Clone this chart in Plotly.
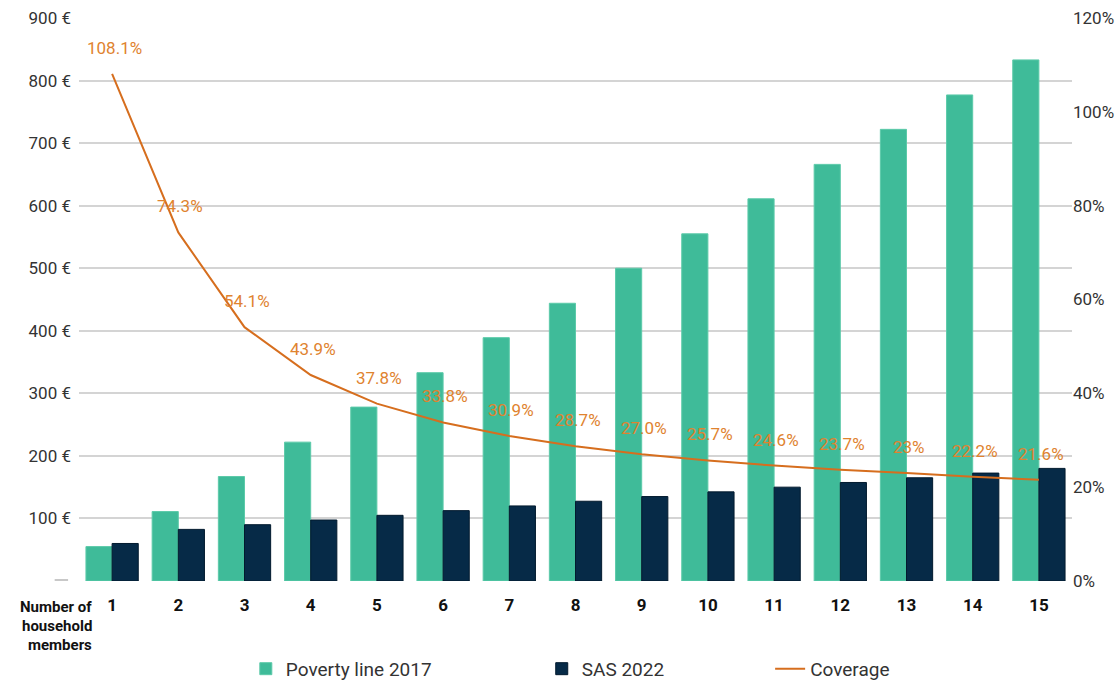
import plotly.graph_objects as go

members = [str(i) for i in range(1, 16)]
poverty_line_2017 = [55, 111, 167, 222, 278, 333, 389, 444, 500, 555, 611, 666, 722, 777, 833]
sas_2022 = [60, 82.5, 90, 97.5, 105, 112.5, 120, 127.5, 135, 142.5, 150, 157.5, 165, 172.5, 180]
coverage = [108.1, 74.3, 54.1, 43.9, 37.8, 33.8, 30.9, 28.7, 27.0, 25.7, 24.6, 23.7, 23, 22.2, 21.6]
coverage_labels = ["108.1%", "74.3%", "54.1%", "43.9%", "37.8%", "33.8%", "30.9%", "28.7%",
                   "27.0%", "25.7%", "24.6%", "23.7%", "23%", "22.2%", "21.6%"]
left_ticks = [0, 100, 200, 300, 400, 500, 600, 700, 800, 900]
right_ticks = [0, 20, 40, 60, 80, 100, 120]
axis_title_lines = ["Number of", "household", "members"]

FONT = "Roboto, DejaVu Sans"
GREEN = "#3FBB99"
NAVY = "#062A47"
ORANGE = "#D66E1E"
LABEL_ORANGE = "#E0832F"
TXT = "#333333"

fig = go.Figure()
fig.add_trace(go.Bar(
    x=members, y=poverty_line_2017, name="Poverty line 2017",
    marker=dict(color=GREEN, line=dict(color="#5CCAA9", width=1)),
    legend="legend",
))
fig.add_trace(go.Bar(
    x=members, y=sas_2022, name="SAS 2022",
    marker=dict(color=NAVY, line=dict(color="#021A2E", width=1)),
    legend="legend2",
))
fig.add_trace(go.Scatter(
    x=members, y=coverage, name="Coverage", yaxis="y2",
    mode="lines", line=dict(color=ORANGE, width=2),
    legend="legend3",
))

# data labels for the coverage line, anchored on the data points (category index)
for i, (v, t) in enumerate(zip(coverage, coverage_labels)):
    fig.add_annotation(
        x=i, y=v, xref="x", yref="y2", text=t, showarrow=False,
        xanchor="center", yanchor="middle", yshift=26, xshift=2,
        font=dict(family=FONT, size=17, color=LABEL_ORANGE),
    )

leg_common = dict(xanchor="left", yanchor="middle", font=dict(size=19), itemwidth=30,
                  bgcolor="rgba(0,0,0,0)")
fig.update_layout(
    width=1119, height=684,
    margin=dict(l=79, r=47, t=18, b=103, autoexpand=False),
    plot_bgcolor="white", paper_bgcolor="white",
    font=dict(family=FONT, size=17, color=TXT),
    barmode="group", bargap=0.21, bargroupgap=0,
    xaxis=dict(
        type="category", range=[-0.5, 14.5], showgrid=False, showline=False, ticks="",
        tickfont=dict(family=FONT, size=17, color="#111111", weight="bold"),
        tickangle=0, automargin=False, ticklabelstandoff=12,
    ),
    yaxis=dict(
        range=[0, 900], tickvals=left_ticks,
        ticktext=["" if v == 0 else f"{v} €" for v in left_ticks],
        showgrid=True, gridcolor="#D4D4D4", gridwidth=1.5,
        zeroline=False, showline=False, ticks="", automargin=False,
        ticklabelstandoff=7,
    ),
    yaxis2=dict(
        range=[0, 120], tickvals=right_ticks,
        ticktext=[f"{v}%" for v in right_ticks],
        overlaying="y", side="right", showgrid=False, zeroline=False,
        showline=False, ticks="", automargin=False,
    ),
    legend=dict(x=0.168, y=-0.156, **leg_common),
    legend2=dict(x=0.466, y=-0.156, **leg_common),
    legend3=dict(x=0.696, y=-0.156, **leg_common),
    showlegend=True,
)

for line, yp in zip(axis_title_lines, [-0.046, -0.080, -0.114]):
    fig.add_annotation(
        xref="paper", yref="paper", x=0.015, y=yp, xanchor="right", yanchor="middle",
        text=line, showarrow=False, align="right",
        font=dict(family=FONT, size=15, color="#111111", weight="bold"),
    )
fig.add_shape(type="line", xref="paper", yref="y", x0=-0.0245, x1=-0.011, y0=0, y1=0,
              line=dict(color="#C8C8C8", width=4))

fig.write_html("out.html", config={"displayModeBar": False},
               post_script="document.body.style.margin='0';")
